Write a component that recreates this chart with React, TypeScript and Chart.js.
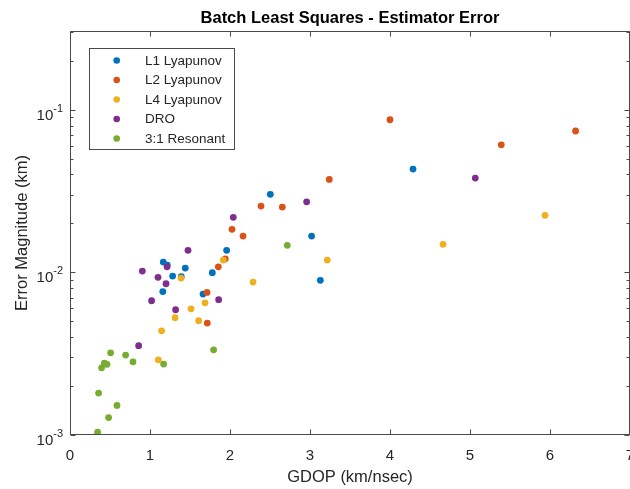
import { useEffect, useRef } from 'react';
import { Chart, registerables } from 'chart.js';

Chart.register(...registerables);

const TITLE = 'Batch Least Squares - Estimator Error';
const X_LABEL = 'GDOP (km/nsec)';
const Y_LABEL = 'Error Magnitude (km)';

const SERIES_NAMES = ['L1 Lyapunov', 'L2 Lyapunov', 'L4 Lyapunov', 'DRO', '3:1 Resonant'];
const SERIES_COLORS = ['#0072BD', '#D95319', '#EDB120', '#7E2F8E', '#77AC30'];

const X_TICKS = [0, 1, 2, 3, 4, 5, 6, 7];
const Y_TICK_VALUES = [0.001, 0.01, 0.1];
const Y_TICK_EXPONENTS = ['-3', '-2', '-1'];

const L1_X = [1.166, 1.216, 1.441, 1.779, 1.283, 1.391, 1.160, 1.663, 1.958, 2.504, 3.020, 3.129, 4.288];
const L1_Y = [0.01157, 0.01109, 0.01063, 0.00996, 0.00949, 0.00940, 0.00762, 0.00735, 0.01366, 0.03018, 0.01672, 0.00893, 0.04317];

const L2_X = [4.0, 6.32, 5.391, 3.241, 2.388, 2.654, 2.025, 2.163, 1.941, 1.854, 1.713, 1.716];
const L2_Y = [0.0868, 0.0740, 0.0609, 0.0373, 0.02557, 0.02521, 0.01839, 0.01672, 0.01212, 0.01082, 0.00753, 0.00488];

const L4_X = [1.916, 1.388, 2.288, 1.688, 1.513, 1.313, 1.608, 1.145, 1.104, 3.216, 4.663, 5.938];
const L4_Y = [0.01190, 0.00922, 0.00872, 0.00650, 0.00597, 0.00526, 0.00504, 0.00437, 0.00290, 0.01190, 0.01487, 0.02242];

const DRO_X = [5.066, 2.958, 2.041, 1.475, 1.213, 0.904, 1.100, 1.200, 1.020, 1.858, 1.320, 0.858];
const DRO_Y = [0.0380, 0.02717, 0.02180, 0.01366, 0.01082, 0.01018, 0.00932, 0.00851, 0.00669, 0.00679, 0.00589, 0.00354];

const RES_X = [2.716, 1.795, 0.5075, 0.695, 0.7875, 1.170, 0.429, 0.4625, 0.395, 0.3575, 0.5875, 0.4825, 0.345];
const RES_Y = [0.01466, 0.00334, 0.00320, 0.00310, 0.00282, 0.00273, 0.00277, 0.00272, 0.00259, 0.00181, 0.00152, 0.00128, 0.00104];

const SERIES_X = [L1_X, L2_X, L4_X, DRO_X, RES_X];
const SERIES_Y = [L1_Y, L2_Y, L4_Y, DRO_Y, RES_Y];

const FONT = '"Liberation Sans", Arial, Helvetica, sans-serif';
const AXIS_COLOR = '#4a4a4a';
const TEXT_COLOR = '#262626';

const matlabPlugin = {
  id: 'matlabAxes',
  afterDraw(chart: any) {
    const ctx = chart.ctx as CanvasRenderingContext2D;
    const area = chart.chartArea;
    const xs = chart.scales.x;
    const ys = chart.scales.y;
    const L = Math.round(area.left) + 0.5;
    const R = Math.round(area.right) - 0.5;
    const T = Math.round(area.top) + 0.5;
    const B = Math.round(area.bottom) - 0.5;
    ctx.save();
    ctx.strokeStyle = AXIS_COLOR;
    ctx.lineWidth = 1;
    ctx.beginPath();
    ctx.rect(L, T, R - L, B - T);
    ctx.stroke();

    // x ticks (bottom and top, inward)
    ctx.beginPath();
    X_TICKS.forEach((v) => {
      const px = Math.min(Math.round(xs.getPixelForValue(v)) + 0.5, R);
      ctx.moveTo(px, B);
      ctx.lineTo(px, B - 5);
      ctx.moveTo(px, T);
      ctx.lineTo(px, T + 5);
    });
    // y ticks major + minor (left and right)
    const minV = ys.min;
    const maxV = ys.max;
    for (let e = -3; e <= 0; e++) {
      for (let m = 1; m <= 9; m++) {
        const v = m * Math.pow(10, e);
        if (v < minV * 0.999 || v > maxV * 1.001) continue;
        const py = Math.round(ys.getPixelForValue(v)) + 0.5;
        const len = m === 1 ? 5 : 3;
        ctx.moveTo(L, py);
        ctx.lineTo(L + len, py);
        ctx.moveTo(R, py);
        ctx.lineTo(R - len, py);
      }
    }
    ctx.stroke();

    // x tick labels
    ctx.fillStyle = TEXT_COLOR;
    ctx.font = `15px ${FONT}`;
    ctx.textAlign = 'center';
    ctx.textBaseline = 'alphabetic';
    X_TICKS.forEach((v) => {
      ctx.fillText(String(v), xs.getPixelForValue(v), 459.5);
    });

    // y tick labels 10^e
    Y_TICK_VALUES.forEach((v, i) => {
      const py = ys.getPixelForValue(v);
      const sup = Y_TICK_EXPONENTS[i];
      ctx.font = `11px ${FONT}`;
      const supW = ctx.measureText(sup).width;
      ctx.textAlign = 'left';
      const rightEdge = area.left - 7;
      ctx.fillText(sup, rightEdge - supW, py + 2);
      ctx.font = `15px ${FONT}`;
      ctx.textAlign = 'right';
      ctx.fillText('10', rightEdge - supW, py + 10);
    });

    // axis labels
    ctx.font = `16.5px ${FONT}`;
    ctx.textAlign = 'center';
    ctx.fillText(X_LABEL, (area.left + area.right) / 2, 482);
    ctx.save();
    ctx.translate(27, (area.top + area.bottom) / 2);
    ctx.rotate(-Math.PI / 2);
    ctx.fillText(Y_LABEL, 0, 0);
    ctx.restore();

    // title
    ctx.fillStyle = '#000';
    ctx.font = `bold 16.5px ${FONT}`;
    ctx.fillText(TITLE, (area.left + area.right) / 2, 23);

    // legend
    const lx = 89.5, ly = 48.5, lw = 145, lh = 101;
    ctx.fillStyle = '#fff';
    ctx.fillRect(lx, ly, lw, lh);
    ctx.strokeStyle = AXIS_COLOR;
    ctx.strokeRect(lx, ly, lw, lh);
    ctx.font = `13.5px ${FONT}`;
    ctx.textAlign = 'left';
    ctx.textBaseline = 'middle';
    SERIES_NAMES.forEach((name, i) => {
      const cy = 60.5 + i * 19.5;
      ctx.fillStyle = SERIES_COLORS[i];
      ctx.beginPath();
      ctx.arc(116.7, cy, 3.3, 0, Math.PI * 2);
      ctx.fill();
      ctx.fillStyle = TEXT_COLOR;
      ctx.fillText(name, 145, cy + 0.5);
    });
    ctx.restore();
  },
};

export default function App() {
  const canvasRef = useRef<HTMLCanvasElement | null>(null);

  useEffect(() => {
    document.body.style.margin = '0';
    const canvas = canvasRef.current;
    if (!canvas) return;
    const datasets = SERIES_NAMES.map((name, i) => ({
      label: name,
      data: SERIES_X[i].map((x, j) => ({ x, y: SERIES_Y[i][j] })),
      backgroundColor: SERIES_COLORS[i],
      borderColor: SERIES_COLORS[i],
      borderWidth: 0,
      pointRadius: 3.4,
      pointHoverRadius: 3.4,
      order: SERIES_NAMES.length - i,
    }));
    const chart = new Chart(canvas, {
      type: 'scatter',
      data: { datasets },
      options: {
        responsive: false,
        animation: false,
        devicePixelRatio: 1,
        layout: { autoPadding: false, padding: { top: 31, right: 0, left: 0, bottom: 0 } },
        plugins: {
          legend: { display: false },
          title: { display: false },
          tooltip: { enabled: false },
        },
        scales: {
          x: {
            type: 'linear',
            min: 0,
            max: 7,
            grid: { display: false },
            border: { display: false },
            ticks: { display: false },
            afterFit: (s: any) => {
              s.height = 54;
            },
          },
          y: {
            type: 'logarithmic',
            min: 0.001,
            max: 0.305,
            grid: { display: false },
            border: { display: false },
            ticks: { display: false },
            afterFit: (s: any) => {
              s.width = 70;
            },
          },
        },
      },
      plugins: [matlabPlugin],
    });
    return () => chart.destroy();
  }, []);

  return <canvas ref={canvasRef} width={630} height={489} style={{ display: 'block' }} />;
}
